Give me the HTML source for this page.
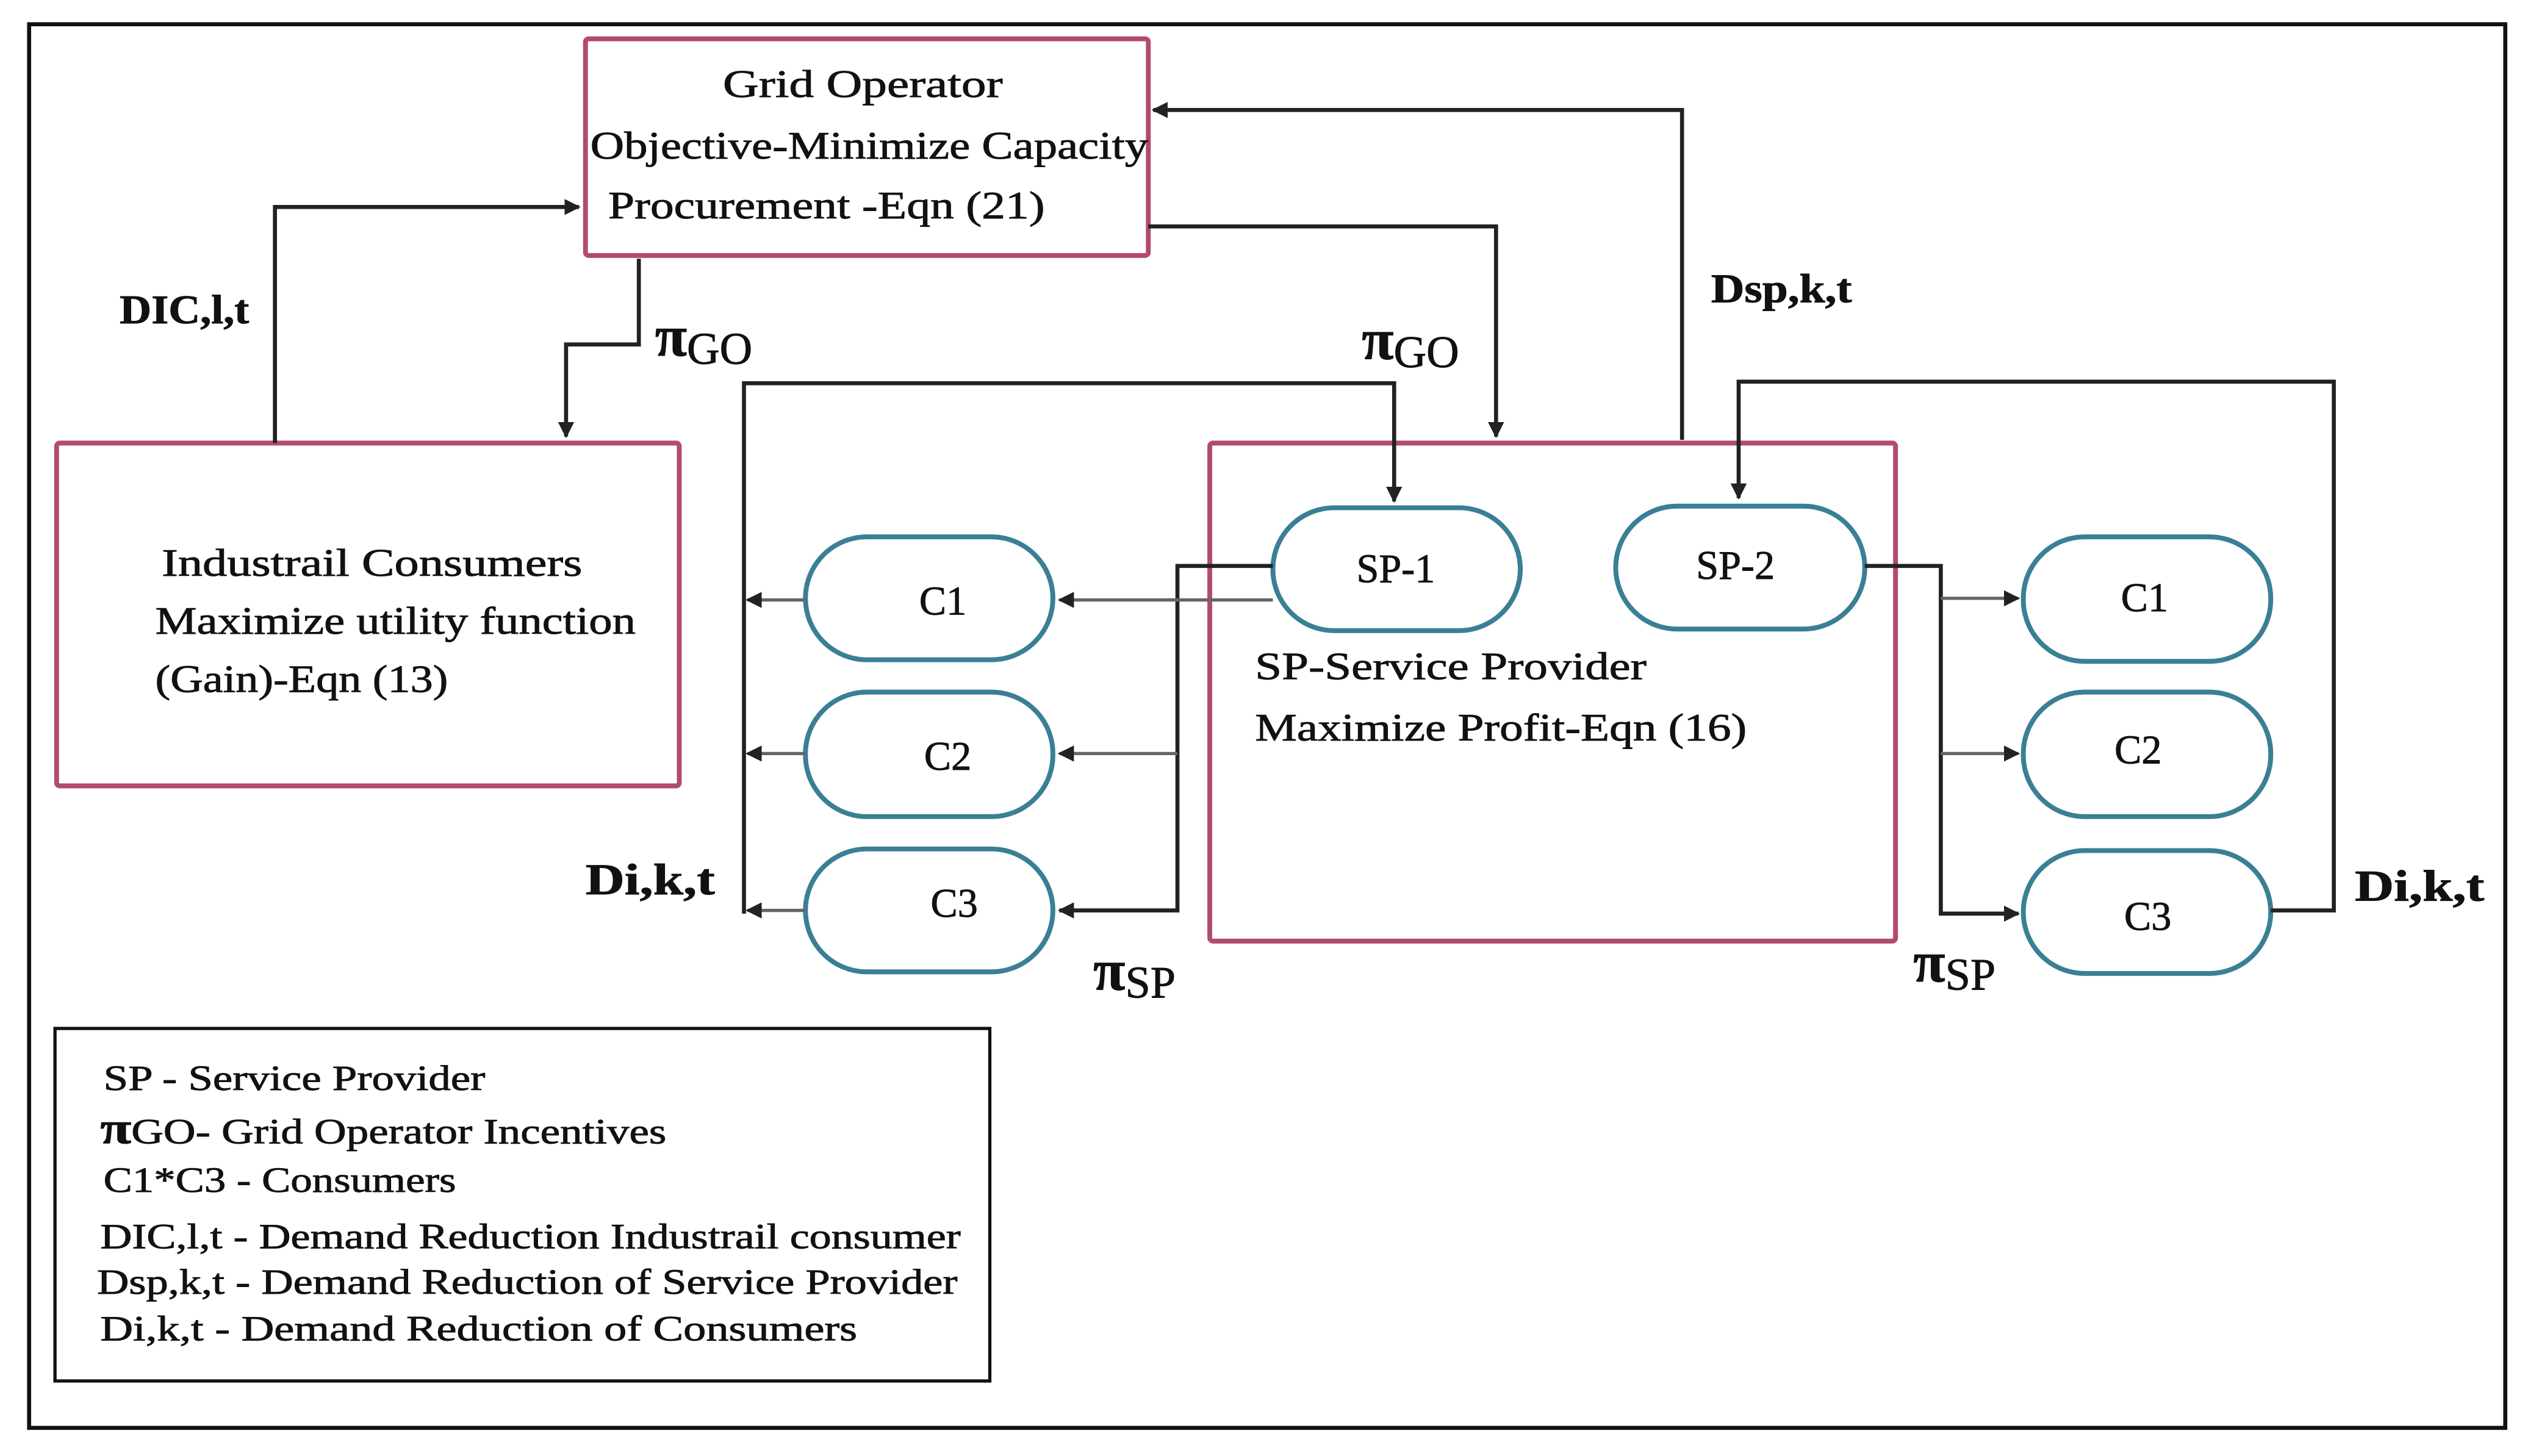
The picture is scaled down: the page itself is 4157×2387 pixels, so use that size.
<!DOCTYPE html>
<html><head><meta charset="utf-8"><style>
html,body{margin:0;padding:0;background:#fff;}
svg{display:block;}
text{font-family:"Liberation Serif",serif;fill:#111;stroke:#111;stroke-width:0.35;}
</style></head><body>
<svg width="4157" height="2387" viewBox="0 0 1568 900.4" preserveAspectRatio="none" xmlns="http://www.w3.org/2000/svg">
<defs>
<marker id="a" markerWidth="10" markerHeight="10" refX="9" refY="5" orient="auto" markerUnits="userSpaceOnUse">
<path d="M0,0 L10,5 L0,10 Z" fill="#222"/></marker>
</defs>
<rect x="0" y="0" width="1568" height="900.4" fill="#fff"/>
<rect x="18" y="15" width="1531" height="868" fill="none" stroke="#111" stroke-width="2.5"/>

<rect x="362" y="24" width="348" height="134" fill="none" stroke="#b24a72" stroke-width="3" rx="2"/>
<rect x="35" y="274" width="385" height="212" fill="none" stroke="#b24a72" stroke-width="3" rx="2"/>
<rect x="748" y="274" width="424" height="308" fill="none" stroke="#b24a72" stroke-width="3" rx="2"/>

<g fill="none" stroke="#3a7f95" stroke-width="3">
<rect x="787" y="314" width="153" height="76" rx="38"/>
<rect x="999" y="313" width="154" height="76" rx="38"/>
<rect x="498" y="332" width="153" height="76" rx="38"/>
<rect x="498" y="428" width="153" height="77" rx="38"/>
<rect x="498" y="525" width="153" height="76" rx="38"/>
<rect x="1251" y="332" width="153" height="77" rx="38"/>
<rect x="1251" y="428" width="153" height="77" rx="38"/>
<rect x="1251" y="526" width="153" height="76" rx="38"/>
</g>

<g fill="none" stroke="#222" stroke-width="2.5">
<polyline points="170,274 170,128 358,128" marker-end="url(#a)"/>
<polyline points="395,160 395,213 350,213 350,270" marker-end="url(#a)"/>
<polyline points="710,140 925,140 925,270" marker-end="url(#a)"/>
<polyline points="1040,272 1040,68 713,68" marker-end="url(#a)"/>
<polyline points="460,565 460,237 862,237 862,310" marker-end="url(#a)"/>
<polyline points="787,350 728,350 728,563 655,563" marker-end="url(#a)"/>
<polyline points="1153,350 1200,350 1200,565 1248,565" marker-end="url(#a)"/>
<polyline points="1404,563 1443,563 1443,236 1075,236 1075,308" marker-end="url(#a)"/>
</g>
<g fill="none" stroke="#666" stroke-width="2">
<line x1="498" y1="371" x2="462" y2="371" marker-end="url(#a)"/>
<line x1="498" y1="466" x2="462" y2="466" marker-end="url(#a)"/>
<line x1="498" y1="563" x2="462" y2="563" marker-end="url(#a)"/>
<line x1="787" y1="371" x2="655" y2="371" marker-end="url(#a)"/>
<line x1="728" y1="466" x2="655" y2="466" marker-end="url(#a)"/>
<line x1="1200" y1="370" x2="1248" y2="370" marker-end="url(#a)"/>
<line x1="1200" y1="466" x2="1248" y2="466" marker-end="url(#a)"/>
</g>

<g font-size="24">
<text x="447" y="60" textLength="173" lengthAdjust="spacingAndGlyphs">Grid Operator</text>
<text x="365" y="98" textLength="345" lengthAdjust="spacingAndGlyphs">Objective-Minimize Capacity</text>
<text x="376" y="135" textLength="270" lengthAdjust="spacingAndGlyphs">Procurement -Eqn (21)</text>
<text x="100" y="356" textLength="260" lengthAdjust="spacingAndGlyphs">Industrail Consumers</text>
<text x="96" y="392" textLength="297" lengthAdjust="spacingAndGlyphs">Maximize utility function</text>
<text x="96" y="428" textLength="181" lengthAdjust="spacingAndGlyphs">(Gain)-Eqn (13)</text>
<text x="776" y="420" textLength="242" lengthAdjust="spacingAndGlyphs">SP-Service Provider</text>
<text x="776" y="458" textLength="304" lengthAdjust="spacingAndGlyphs">Maximize Profit-Eqn (16)</text>
</g>
<g font-size="25" text-anchor="middle">
<text x="863" y="360">SP-1</text>
<text x="1073" y="358">SP-2</text>
<text x="583" y="380">C1</text>
<text x="586" y="476">C2</text>
<text x="590" y="567">C3</text>
<text x="1326" y="378">C1</text>
<text x="1322" y="472">C2</text>
<text x="1328" y="575">C3</text>
</g>

<g font-size="25" font-weight="bold">
<text x="74" y="200" textLength="80" lengthAdjust="spacingAndGlyphs">DIC,l,t</text>
<text x="1058" y="187" textLength="87" lengthAdjust="spacingAndGlyphs">Dsp,k,t</text>
<text x="362" y="553" font-size="27" textLength="80" lengthAdjust="spacingAndGlyphs">Di,k,t</text>
<text x="1456" y="557" font-size="27" textLength="80" lengthAdjust="spacingAndGlyphs">Di,k,t</text>
</g>
<g font-weight="bold">
<text x="405" y="220" font-size="36">π<tspan font-size="28" font-weight="normal" dy="5">GO</tspan></text>
<text x="842" y="222" font-size="36">π<tspan font-size="28" font-weight="normal" dy="5">GO</tspan></text>
<text x="676" y="612" font-size="36">π<tspan font-size="28" font-weight="normal" dy="5">SP</tspan></text>
<text x="1183" y="607" font-size="36">π<tspan font-size="28" font-weight="normal" dy="5">SP</tspan></text>
</g>

<rect x="34" y="636" width="578" height="218" fill="none" stroke="#111" stroke-width="2"/>
<g font-size="22">
<text x="64" y="674" textLength="236" lengthAdjust="spacingAndGlyphs">SP - Service Provider</text>
<text x="62" y="707" textLength="350" lengthAdjust="spacingAndGlyphs"><tspan font-weight="bold" font-size="28">π</tspan>GO- Grid Operator Incentives</text>
<text x="64" y="737" textLength="218" lengthAdjust="spacingAndGlyphs">C1*C3 - Consumers</text>
<text x="62" y="772" textLength="532" lengthAdjust="spacingAndGlyphs">DIC,l,t - Demand Reduction Industrail consumer</text>
<text x="60" y="800" textLength="532" lengthAdjust="spacingAndGlyphs">Dsp,k,t - Demand Reduction of Service Provider</text>
<text x="62" y="829" textLength="468" lengthAdjust="spacingAndGlyphs">Di,k,t    - Demand Reduction of Consumers</text>
</g>
</svg>
</body></html>
